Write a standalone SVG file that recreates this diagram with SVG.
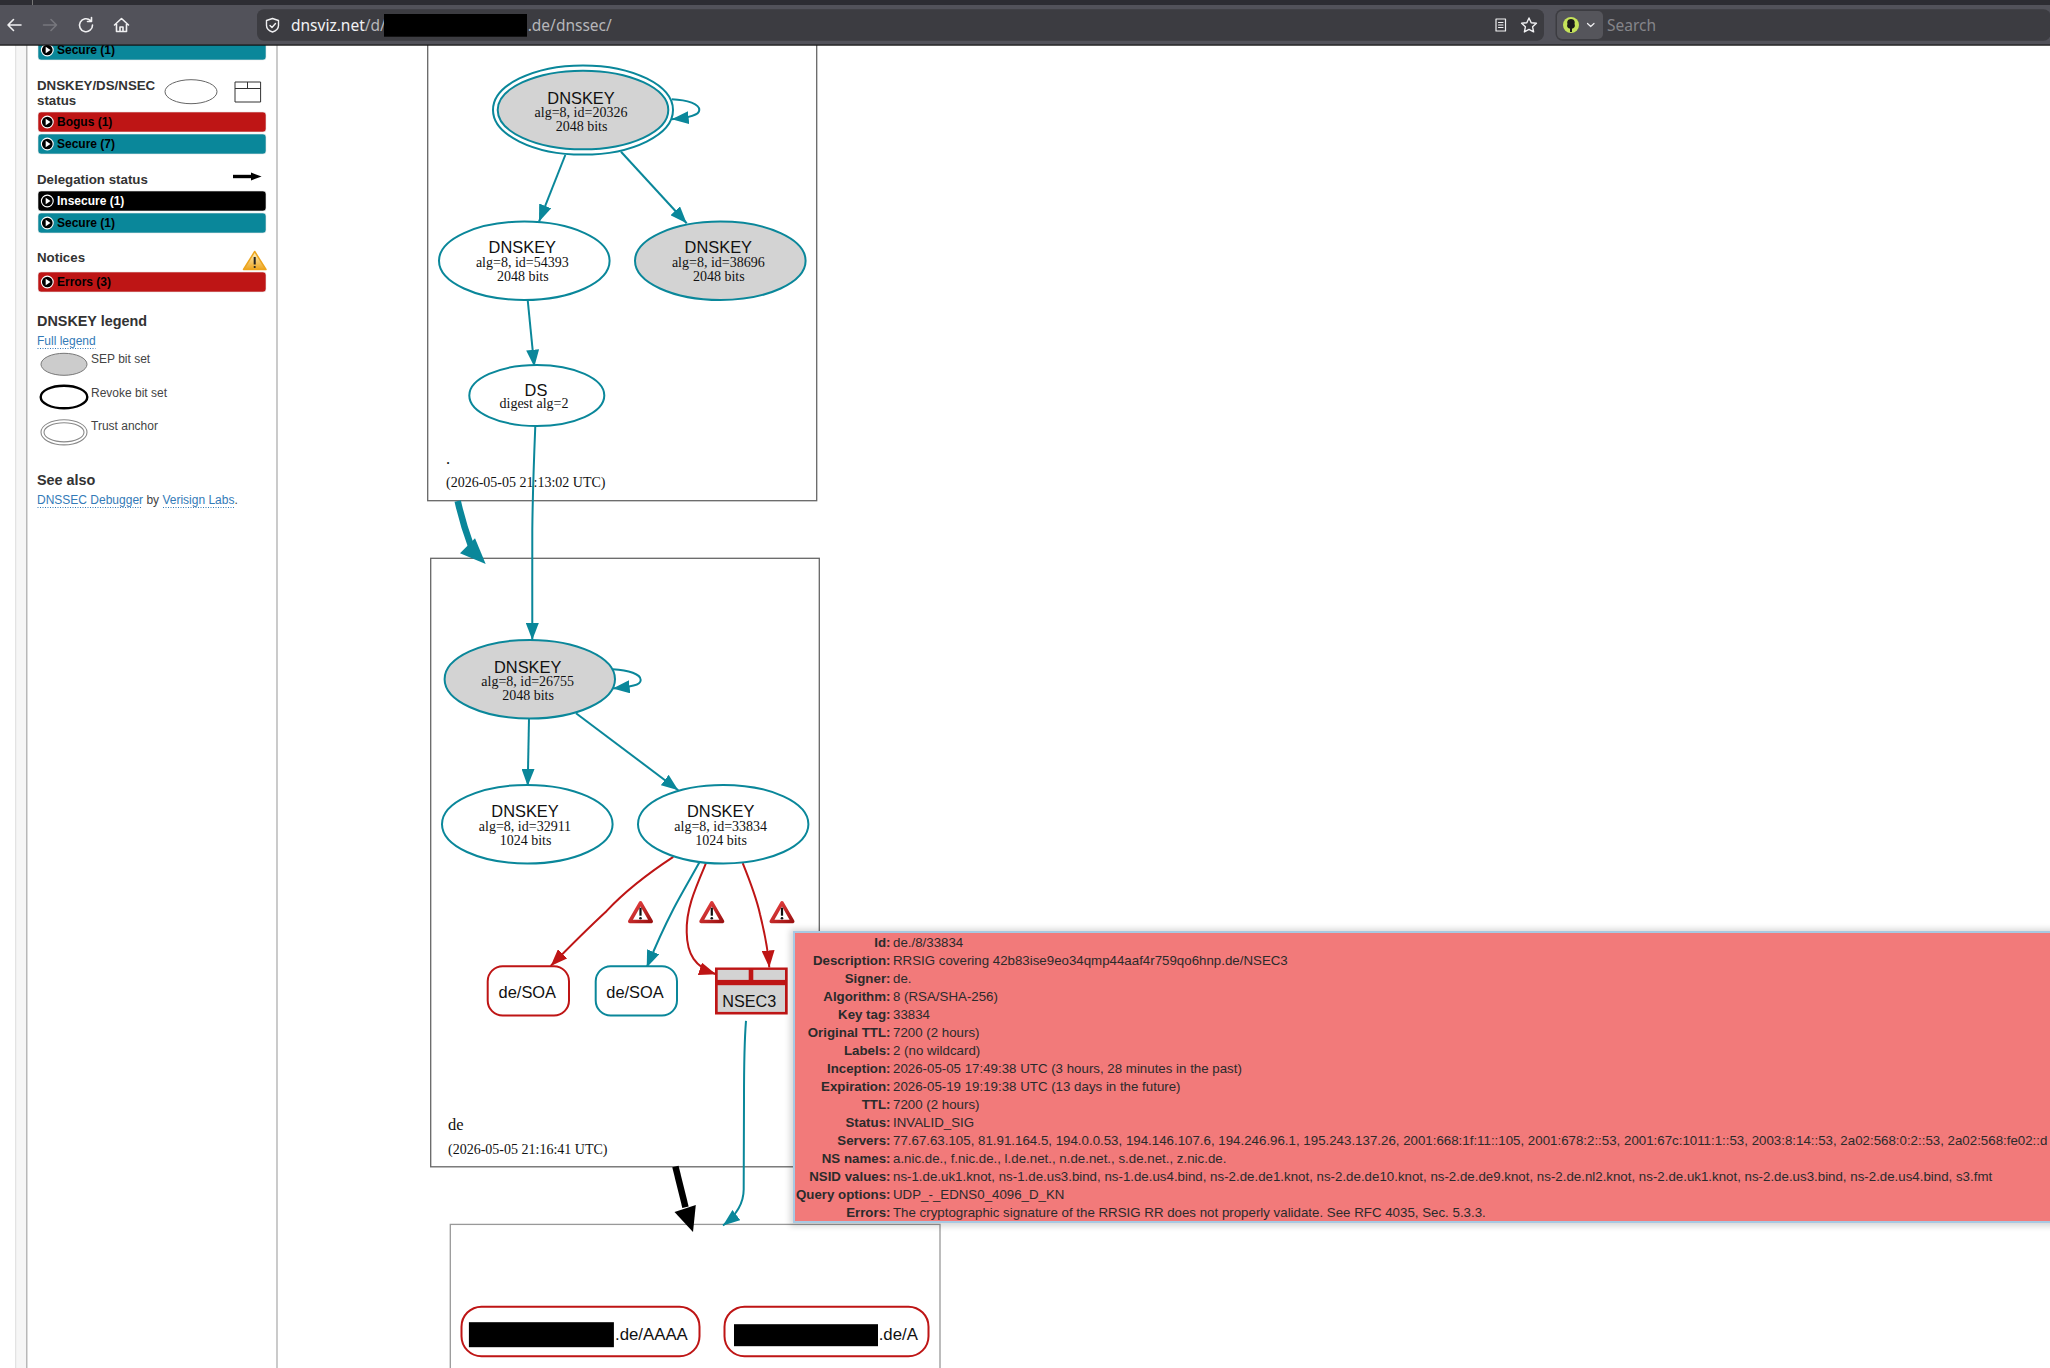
<svg xmlns="http://www.w3.org/2000/svg" width="2050" height="1368" viewBox="0 0 2050 1368">
<style>
text{font-family:"Liberation Sans",Arial,sans-serif}
.box{fill:#fff;stroke:#666;stroke-width:1.3}
.e{stroke:#0a879a;stroke-width:2;fill:#fff}
.r{stroke:#be1515;stroke-width:2;fill:#fff}
.t{font-size:16.4px;fill:#111;text-anchor:middle}
.s{font-family:"Liberation Serif","Times New Roman",serif;font-size:14px;fill:#111;text-anchor:middle}
.z{font-family:"Liberation Serif","Times New Roman",serif;font-size:14px;fill:#111}
.n{font-size:16.4px;fill:#111;text-anchor:middle}
.ce{fill:none;stroke:#0a879a;stroke-width:2;marker-end:url(#at)}
.cr{fill:none;stroke:#be1515;stroke-width:2;marker-end:url(#ar)}
.bar{stroke:#e8e8e8;stroke-width:.6}
.bt{font-size:12px;font-weight:bold;fill:#000}
.h{font-size:13.3px;font-weight:bold;fill:#333}
.hh{font-size:14.4px;font-weight:bold;fill:#333}
.lk{font-size:12px;fill:#337ab7}
.p{font-size:12px;fill:#444}
.dot{stroke:#337ab7;stroke-width:1;stroke-dasharray:1 1.5;fill:none}
.pl{font-size:13.3px;font-weight:bold;fill:#2b2b2b;text-anchor:end}
.pv{font-size:13.3px;fill:#2b2b2b}
.ui{font-family:"Noto Sans","Open Sans",sans-serif;font-size:15.5px}
.ic{fill:none;stroke:#f0f0f2;stroke-width:1.6;stroke-linecap:round;stroke-linejoin:round}
</style>
<defs>
<marker id="at" viewBox="0 0 17 13" markerUnits="userSpaceOnUse" markerWidth="17" markerHeight="13" refX="17" refY="6.5" orient="auto"><path d="M0 0L17 6.5L0 13Z" fill="#0a879a"/></marker>
<marker id="ar" viewBox="0 0 17 13" markerUnits="userSpaceOnUse" markerWidth="17" markerHeight="13" refX="17" refY="6.5" orient="auto"><path d="M0 0L17 6.5L0 13Z" fill="#be1515"/></marker>
<linearGradient id="wg" x1="0" y1="0" x2="1" y2="1"><stop offset="0" stop-color="#ee4444"/><stop offset="1" stop-color="#9c1212"/></linearGradient>
<linearGradient id="yg" x1="0" y1="0" x2="0" y2="1"><stop offset="0" stop-color="#fdf3c8"/><stop offset="1" stop-color="#eda51e"/></linearGradient>
<g id="warn"><path d="M12.5 2.2L23.2 20.8H1.8Z" fill="#fff" stroke="url(#wg)" stroke-width="3.6" stroke-linejoin="round"/><rect x="11.4" y="7" width="2.2" height="8" fill="#111"/><circle cx="12.5" cy="17.6" r="1.3" fill="#111"/></g>
<g id="play"><circle r="5.9" fill="#000" stroke="#fff" stroke-width="1.1"/><path d="M-1.6 -3.2L3.2 0L-1.6 3.2Z" fill="#fff"/></g>
<filter id="sh" x="-2%" y="-5%" width="104%" height="110%"><feGaussianBlur stdDeviation="3"/></filter>
</defs>
<rect width="2050" height="1368" fill="#fff"/>

<g id="sidebar">
<rect x="16" y="45" width="11" height="1323" fill="#f6f6f6"/>
<path d="M15.7 45V1368" stroke="#ddd" stroke-width="1"/>
<path d="M26.8 45V1368M277 45V1368" stroke="#a8a8a8" stroke-width="1.2"/>
<rect class="bar" x="38" y="40" width="228" height="20" rx="3" fill="#0a879a"/>
<use href="#play" x="47.3" y="50"/><text class="bt" x="57" y="54">Secure (1)</text>
<text class="h" x="37" y="90">DNSKEY/DS/NSEC</text><text class="h" x="37" y="105">status</text>
<ellipse cx="191" cy="91.7" rx="26" ry="12" fill="#fff" stroke="#666" stroke-width="1"/>
<path d="M235 82H260.6V102H235ZM235 88.5H260.6M247.5 82V88.5" fill="#fff" stroke="#333" stroke-width="1"/>
<rect class="bar" x="38" y="112" width="228" height="20" rx="3" fill="#be1515"/>
<use href="#play" x="47.3" y="122"/><text class="bt" x="57" y="126.3">Bogus (1)</text>
<rect class="bar" x="38" y="134" width="228" height="20" rx="3" fill="#0a879a"/>
<use href="#play" x="47.3" y="144"/><text class="bt" x="57" y="148.3">Secure (7)</text>
<text class="h" x="37" y="184">Delegation status</text>
<path d="M233 176.5H252" stroke="#000" stroke-width="3.4"/><path d="M251 172.5L261.6 176.5L251 180.5Z" fill="#000"/>
<rect class="bar" x="38" y="191" width="228" height="20" rx="3" fill="#000"/>
<use href="#play" x="47.3" y="201"/><text class="bt" x="57" y="205.3" style="fill:#fff">Insecure (1)</text>
<rect class="bar" x="38" y="213" width="228" height="20" rx="3" fill="#0a879a"/>
<use href="#play" x="47.3" y="223"/><text class="bt" x="57" y="227.3">Secure (1)</text>
<text class="h" x="37" y="262">Notices</text>
<path d="M254.7 251.5L266 269.5H243.5Z" fill="url(#yg)" stroke="#eda51e" stroke-width="1.5" stroke-linejoin="round"/>
<rect x="253.7" y="257" width="2" height="7.5" fill="#222"/><circle cx="254.7" cy="267" r="1.1" fill="#222"/>
<rect class="bar" x="38" y="272" width="228" height="20" rx="3" fill="#be1515"/>
<use href="#play" x="47.3" y="282"/><text class="bt" x="57" y="286.3">Errors (3)</text>
<text class="hh" x="37" y="325.5">DNSKEY legend</text>
<text class="lk" x="37" y="345">Full legend</text><path class="dot" d="M37.5 348.5H95.5"/>
<ellipse cx="64" cy="364.3" rx="23" ry="11" fill="#ccc" stroke="#777" stroke-width="1"/>
<text class="p" x="91" y="362.5">SEP bit set</text>
<ellipse cx="64" cy="397" rx="23.3" ry="11.3" fill="#fff" stroke="#000" stroke-width="2.4"/>
<text class="p" x="91" y="396.5">Revoke bit set</text>
<ellipse cx="64" cy="432.3" rx="23" ry="12.6" fill="#fff" stroke="#888" stroke-width="1.1"/>
<ellipse cx="64" cy="432.3" rx="20" ry="9.6" fill="#fff" stroke="#888" stroke-width="1.1"/>
<text class="p" x="91" y="430">Trust anchor</text>
<text class="hh" x="37" y="485">See also</text>
<text class="lk" x="37" y="504">DNSSEC Debugger<tspan fill="#444"> by </tspan>Verisign Labs<tspan fill="#444">.</tspan></text>
<path class="dot" d="M37.5 507.5H142M163 507.5H234"/>
</g>

<g id="zone-root"><rect class="box" x="427.7" y="30" width="389" height="470.7"/>
<text class="z" x="446" y="464" style="font-size:16.5px">.</text>
<text class="z" x="446" y="486.7">(2026-05-05 21:13:02 UTC)</text></g>
<g id="zone-de"><rect class="box" x="430.7" y="558.3" width="388.6" height="608.5"/>
<text class="z" x="448" y="1130" style="font-size:16.5px">de</text>
<text class="z" x="448" y="1154.2">(2026-05-05 21:16:41 UTC)</text></g>
<g id="zone-leaf"><rect class="box" x="450.3" y="1224.4" width="489.7" height="160" style="stroke:#999"/></g>

<g id="connectors">
<path class="ce" d="M565.3 155L539 221.7"/>
<path class="ce" d="M621 151.7L686.7 223.3"/>
<path class="ce" d="M671.7 99.3C688 100 699.3 104 699.3 110C699.3 115 690 117.5 671.7 119.3"/>
<path class="ce" d="M527.7 300L534.3 366.7"/>
<path class="ce" d="M535.3 426C533.5 470 532.6 500 532.3 530C532.2 570 532.3 600 532.3 640"/>
<path d="M457.7 501C461.5 518 465.5 531 471 546" fill="none" stroke="#0a879a" stroke-width="6.5"/>
<path d="M485.7 564L460 553.3L475 538.3Z" fill="#0a879a"/>
<g transform="translate(0,-0.8)">
<path class="ce" d="M612.7 670C629 671 640.7 675 640.7 680.7C640.7 686 631 687.5 612.7 689.3"/>
<path class="ce" d="M529 719.3L527.7 786.7"/>
<path class="ce" d="M576 714L678.3 791"/>
<path class="cr" d="M673.3 857.7C650 873 627 890 606.7 911.7C588 929 568 949 550.7 966.7"/>
<path class="ce" d="M699.3 863.3C690 880 680 897 673.3 910C664 928 655 948 646.7 968.3"/>
<path class="cr" d="M706 864C695 890 686 910 686.7 933C687 955 695 968 716 975"/>
<path class="cr" d="M742.7 864C750 882 756 897 760 915C765 935 768 950 769.3 968.3"/>
<path class="ce" d="M746 1021.7C744.5 1040 744 1060 744 1100L743.7 1190C743.7 1205 735 1217 723 1226.3"/>
<path d="M675.4 1167.3L685.5 1208" fill="none" stroke="#000" stroke-width="6.5"/>
<path d="M693 1232.7L674.5 1212.7L695.8 1205.7Z" fill="#000"/>
</g>
</g>

<g id="dnskey-20326"><ellipse class="e" cx="583" cy="110" rx="90" ry="44.6"/><ellipse class="e" cx="583" cy="110" rx="85.3" ry="39.3" style="fill:#d3d3d3"/>
<text class="t" x="581" y="104">DNSKEY</text><text class="s" x="581" y="117.3">alg=8, id=20326</text><text class="s" x="581.5" y="130.7">2048 bits</text></g>
<g id="dnskey-54393"><ellipse class="e" cx="524.3" cy="260.8" rx="85.3" ry="39.2"/>
<text class="t" x="522.3" y="253.3">DNSKEY</text><text class="s" x="522.3" y="266.7">alg=8, id=54393</text><text class="s" x="522.8" y="280.7">2048 bits</text></g>
<g id="dnskey-38696"><ellipse class="e" cx="720.3" cy="260.8" rx="85.3" ry="39.2" style="fill:#d3d3d3"/>
<text class="t" x="718.3" y="253.3">DNSKEY</text><text class="s" x="718.3" y="266.7">alg=8, id=38696</text><text class="s" x="718.8" y="280.7">2048 bits</text></g>
<g id="ds"><ellipse class="e" cx="536.8" cy="395.5" rx="67.5" ry="30.5"/>
<text class="t" x="536" y="396">DS</text><text class="s" x="534" y="408.3">digest alg=2</text></g>
<g id="dnskey-26755" transform="translate(0,-0.8)"><ellipse class="e" cx="529.8" cy="680" rx="85.2" ry="39.3" style="fill:#d3d3d3"/>
<text class="t" x="527.7" y="674">DNSKEY</text><text class="s" x="527.7" y="687.3">alg=8, id=26755</text><text class="s" x="528" y="701">2048 bits</text></g>
<g id="dnskey-32911" transform="translate(0,-0.8)"><ellipse class="e" cx="527.3" cy="825" rx="85.3" ry="39.3"/>
<text class="t" x="525" y="818.3">DNSKEY</text><text class="s" x="525" y="831.7">alg=8, id=32911</text><text class="s" x="525.5" y="845.7">1024 bits</text></g>
<g id="dnskey-33834" transform="translate(0,-0.8)"><ellipse class="e" cx="723.2" cy="825" rx="85.2" ry="39.3"/>
<text class="t" x="720.7" y="818.3">DNSKEY</text><text class="s" x="720.7" y="831.7">alg=8, id=33834</text><text class="s" x="721" y="845.7">1024 bits</text></g>
<g id="soa-bogus" transform="translate(0,-0.8)"><rect class="r" x="487.7" y="967" width="81.3" height="49.3" rx="15"/><text class="n" x="527.3" y="999.3">de/SOA</text></g>
<g id="soa-secure" transform="translate(0,-0.8)"><rect class="e" x="595.7" y="967" width="81.3" height="49.3" rx="15"/><text class="n" x="635" y="999.3">de/SOA</text></g>
<g id="nsec3" transform="translate(0,-0.8)"><rect x="715" y="968.3" width="72.7" height="47" fill="#be1515"/>
<rect x="717.7" y="970.7" width="31" height="10" fill="#d3d3d3"/><rect x="753.3" y="970.7" width="31.7" height="10" fill="#d3d3d3"/>
<rect x="717.7" y="986" width="67.3" height="26.7" fill="#d3d3d3"/>
<text class="n" x="749.3" y="1007.7" style="font-size:16.2px">NSEC3</text></g>
<g id="warnings" transform="translate(0,-0.8)"><use href="#warn" x="628" y="901.5"/><use href="#warn" x="699.3" y="901.5"/><use href="#warn" x="769.5" y="901.5"/></g>
<g id="rrset-aaaa" transform="translate(0,-0.8)"><rect class="r" x="461.5" y="1307.5" width="238" height="49.5" rx="20"/><rect x="468.9" y="1323" width="145" height="25" fill="#000"/><text x="615" y="1340.7" style="font-size:16.8px" fill="#111">.de/AAAA</text></g>
<g id="rrset-a" transform="translate(0,-0.8)"><rect class="r" x="724.5" y="1307.5" width="204" height="49.5" rx="20"/><rect x="734" y="1325" width="144" height="22" fill="#000"/><text x="878.7" y="1340.7" style="font-size:16.8px" fill="#111">.de/A</text></g>

<g id="tooltip" transform="translate(0,-0.8)">
<rect x="790" y="930" width="1275" height="297" fill="#000" opacity=".16" filter="url(#sh)"/>
<rect x="794" y="932.8" width="1270" height="290" fill="#f27a7a" stroke="#a9c9e2" stroke-width="2"/>
<text class="pl" x="890.5" y="948">Id:</text><text class="pv" x="893" y="948">de./8/33834</text>
<text class="pl" x="890.5" y="966">Description:</text><text class="pv" x="893" y="966">RRSIG covering 42b83ise9eo34qmp44aaf4r759qo6hnp.de/NSEC3</text>
<text class="pl" x="890.5" y="984">Signer:</text><text class="pv" x="893" y="984">de.</text>
<text class="pl" x="890.5" y="1002">Algorithm:</text><text class="pv" x="893" y="1002">8 (RSA/SHA-256)</text>
<text class="pl" x="890.5" y="1020">Key tag:</text><text class="pv" x="893" y="1020">33834</text>
<text class="pl" x="890.5" y="1038">Original TTL:</text><text class="pv" x="893" y="1038">7200 (2 hours)</text>
<text class="pl" x="890.5" y="1056">Labels:</text><text class="pv" x="893" y="1056">2 (no wildcard)</text>
<text class="pl" x="890.5" y="1074">Inception:</text><text class="pv" x="893" y="1074">2026-05-05 17:49:38 UTC (3 hours, 28 minutes in the past)</text>
<text class="pl" x="890.5" y="1092">Expiration:</text><text class="pv" x="893" y="1092">2026-05-19 19:19:38 UTC (13 days in the future)</text>
<text class="pl" x="890.5" y="1110">TTL:</text><text class="pv" x="893" y="1110">7200 (2 hours)</text>
<text class="pl" x="890.5" y="1128">Status:</text><text class="pv" x="893" y="1128">INVALID_SIG</text>
<text class="pl" x="890.5" y="1146">Servers:</text><text class="pv" x="893" y="1146">77.67.63.105, 81.91.164.5, 194.0.0.53, 194.146.107.6, 194.246.96.1, 195.243.137.26, 2001:668:1f:11::105, 2001:678:2::53, 2001:67c:1011:1::53, 2003:8:14::53, 2a02:568:0:2::53, 2a02:568:fe02::d</text>
<text class="pl" x="890.5" y="1164">NS names:</text><text class="pv" x="893" y="1164">a.nic.de., f.nic.de., l.de.net., n.de.net., s.de.net., z.nic.de.</text>
<text class="pl" x="890.5" y="1182">NSID values:</text><text class="pv" x="893" y="1182">ns-1.de.uk1.knot, ns-1.de.us3.bind, ns-1.de.us4.bind, ns-2.de.de1.knot, ns-2.de.de10.knot, ns-2.de.de9.knot, ns-2.de.nl2.knot, ns-2.de.uk1.knot, ns-2.de.us3.bind, ns-2.de.us4.bind, s3.fmt</text>
<text class="pl" x="890.5" y="1200">Query options:</text><text class="pv" x="893" y="1200">UDP_-_EDNS0_4096_D_KN</text>
<text class="pl" x="890.5" y="1218">Errors:</text><text class="pv" x="893" y="1218">The cryptographic signature of the RRSIG RR does not properly validate. See RFC 4035, Sec. 5.3.3.</text>
</g>

<g id="browser-bar">
<rect width="2050" height="45" fill="#52525a"/>
<rect width="2050" height="5" fill="#2d2d33"/>
<path d="M32.5 0V5" stroke="#777"/>
<rect x="0" y="44.5" width="2050" height="1.2" fill="#111"/>
<rect x="257" y="9.3" width="1287" height="31.4" rx="7" fill="#3c3c41"/>
<rect x="1555.5" y="9.3" width="495" height="31.4" rx="7" fill="#3c3c41"/>
<rect x="1557" y="11" width="46" height="28" rx="5" fill="#55555b"/>
<path class="ic" d="M21 25H8M13.5 19.5L8 25L13.5 30.5"/>
<path class="ic" d="M43.5 25H56.5M51 19.5L56.5 25L51 30.5" style="stroke:#77777d"/>
<path class="ic" d="M90.5 20.5A6.5 6.5 0 1 0 92.5 25M91.5 17.5V21.5H87.5"/>
<path class="ic" d="M114.5 25L121.5 18.5L128.5 25M116.5 24V31.5H126.5V24M120 31.5V27H123V31.5"/>
<path class="ic" d="M272.5 18.5L278.5 20.5V25.5C278.5 28.5 275.5 31 272.5 32C269.5 31 266.5 28.5 266.5 25.5V20.5ZM270 25.5L272 27.5L275.5 23.5" style="stroke-width:1.4"/>
<text class="ui" x="291" y="30.5" fill="#f2f2f4">dnsviz.net<tspan fill="#b6b6ba">/d/</tspan></text>
<rect x="384" y="14" width="143" height="22.7" fill="#000"/>
<text class="ui" x="527.7" y="30.5" fill="#b6b6ba">.de/dnssec/</text>
<path class="ic" d="M1496 19H1505.5V31H1496ZM1498.5 22.5H1503M1498.5 25H1503M1498.5 27.5H1503" style="stroke-width:1.2"/>
<path class="ic" d="M1529 18L1531.2 22.7L1536.4 23.3L1532.6 26.8L1533.6 31.9L1529 29.4L1524.4 31.9L1525.4 26.8L1521.6 23.3L1526.8 22.7Z" style="stroke-width:1.4"/>
<circle cx="1571" cy="25" r="8" fill="#c5e35a"/>
<path d="M1571 19C1567.5 19 1566.8 22 1567.5 24C1566.5 26 1567.5 28.5 1570 28.5V32H1572V28.5C1574.5 28.5 1575.5 26 1574.5 24C1575.2 22 1574.5 19 1571 19Z" fill="#1a1a1a"/>
<path class="ic" d="M1587.5 23.5L1590.7 26.5L1594 23.5" style="stroke-width:1.2"/>
<text class="ui" x="1607" y="30.5" fill="#85858a">Search</text>
</g>
</svg>
